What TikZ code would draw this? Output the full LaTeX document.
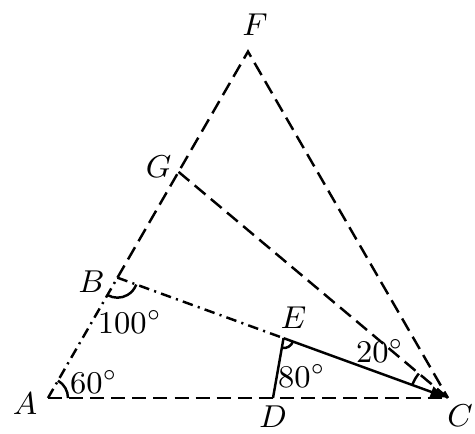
\documentclass[tikz,border=0pt]{standalone}
\usepackage{amsmath}
\usepackage{tikz}
\usetikzlibrary{arrows.meta}
\definecolor{black}{RGB}{0,0,0}

\begin{document}
\begin{tikzpicture}[line width=0.7pt,
        lbl/.style={font=\fontsize{8.8}{10}\selectfont, inner sep=0pt},
        longdash/.style={dash pattern=on 4pt off 2pt},
        dashdot/.style={dash pattern=on 3pt off 1.5pt on 0.6pt off 1.5pt}]

        \useasboundingbox (-0.48,-0.36) rectangle (4.27,3.98);

        \coordinate (A) at (0,0);
        \coordinate (C) at (4,0);
        \coordinate (F) at (60:4);
        \coordinate (B) at (60:1.389);
        \coordinate (G) at (60:2.611);
        \coordinate (D) at (2.25,0);
        \coordinate (E) at (2.3555,0.5985);

        \draw[black, dashdot] (A) -- (B);
        \draw[black, longdash] (B) -- (G) -- (F) -- (C);
        \draw[black, longdash] (A) -- (D) -- (C);
        \draw[black, longdash] (G) -- (C);
        \draw[black, dashdot] (B) -- (E);
        \draw[black, -{Latex[length=5pt,width=3.5pt]}] (E) -- (C);
        \draw[black] (D) -- (E);

        % angle marks
        \draw ([shift={(0:0.2)}]A) arc (0:60:0.2);
        \draw ([shift={(240:0.2)}]B) arc (240:340:0.2);
        \draw ([shift={(260:0.1)}]E) arc (260:340:0.1);
        \draw ([shift={(140:0.38)}]C) arc (140:160:0.38);

        \node[lbl] (aA) at (0.46,0.16) {$60^{\circ}$};
        \node[lbl] (aB) at (0.82,0.76) {$100^{\circ}$};
        \node[lbl] (aE) at (2.54,0.22) {$80^{\circ}$};
        \node[lbl] (aC) at (3.32,0.47) {$20^{\circ}$};

        \node[lbl] (lA) at ([shift={(-0.23,-0.06)}]A) {$A$};
        \node[lbl] (lB) at ([shift={(-0.26,-0.04)}]B) {$B$};
        \node[lbl] (lC) at ([shift={(0.12,-0.18)}]C) {$C$};
        \node[lbl] (lD) at ([shift={(0,-0.19)}]D) {$D$};
        \node[lbl] (lE) at ([shift={(0.1,0.2)}]E) {$E$};
        \node[lbl] (lF) at ([shift={(0.07,0.27)}]F) {$F$};
        \node[lbl] (lG) at ([shift={(-0.2,0.05)}]G) {$G$};

        \end{tikzpicture}
\end{document}
